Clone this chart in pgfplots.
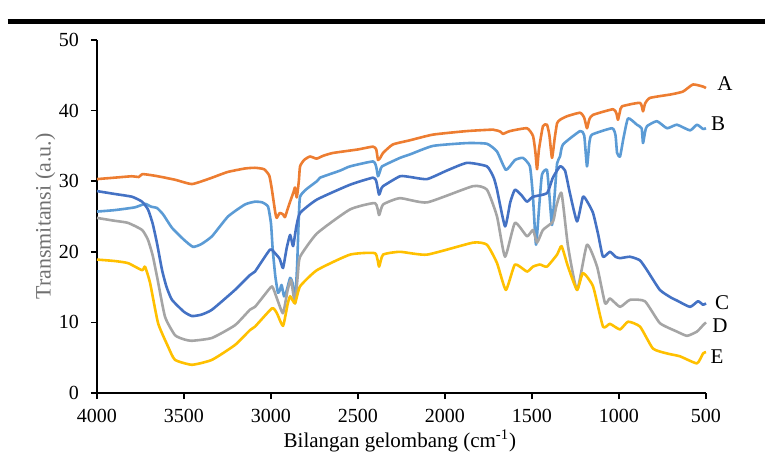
\documentclass[border=0pt]{standalone}
\usepackage{fontspec}
\setmainfont{Liberation Serif}
\usepackage{pgfplots}
\pgfplotsset{compat=1.18}
\definecolor{cA}{HTML}{ED7D31}
\definecolor{cB}{HTML}{5B9BD5}
\definecolor{cC}{HTML}{4472C4}
\definecolor{cD}{HTML}{A5A5A5}
\definecolor{cE}{HTML}{FFC000}
\definecolor{axgray}{HTML}{707070}

\begin{document}
\begin{tikzpicture}[x=1pt,y=1pt]
\useasboundingbox (0,0) rectangle (382.5,228.5);
\draw[line width=2.5pt] (3.75,217.75) -- (382.5,217.75);
\begin{axis}[
    at={(48.5pt,32pt)}, anchor=south west,
    scale only axis, width=304.5pt, height=176.5pt,
    xmin=500, xmax=4000, x dir=reverse,
    ymin=0, ymax=50,
    xtick={500,1000,...,4000}, ytick={0,10,...,50},
    axis x line*=bottom, axis y line*=left,
    axis line style={black, line width=0.75pt, -},
    tick style={black, line width=0.75pt},
    tick align=outside, major tick length=3pt,
    clip=false,
    font=\fontsize{10}{12}\selectfont,
    /pgf/number format/assume math mode=true,
    /pgf/number format/1000 sep={},
    xticklabel style={yshift=-1.5pt},
    yticklabel style={xshift=-2.5pt},
    ylabel={Transmitansi (a.u.)},
    ylabel style={at={(axis description cs:-0.085,0.5)}, anchor=center, color=axgray, font=\fontsize{11}{13}\selectfont},
    xlabel={Bilangan gelombang (cm\textsuperscript{-1})},
    xlabel style={at={(axis description cs:0.4975,-0.135)}, anchor=center, font=\fontsize{10.5}{12}\selectfont},
    every axis plot/.append style={line width=1.3pt, line join=round, smooth, tension=0.3},
]
\addplot[cA] coordinates {
(4000,30.3) (3900,30.5) (3800,30.7) (3760,30.6) (3740,31.0) (3700,30.9) (3650,30.7)
(3550,30.2) (3454,29.6) (3350,30.4) (3250,31.3) (3150,31.8) (3092,31.9) (3040,31.7)
(3010,30.8) (2996,29.0) (2975,25.5) (2967,24.8) (2950,25.5) (2931,25.3) (2920,24.9)
(2905,26.0) (2890,27.1) (2870,28.5) (2862,29.1) (2852,27.7) (2840,30.0) (2833,32.1)
(2810,33.0) (2776,33.5) (2738,33.2) (2700,33.6) (2644,34.0) (2500,34.5) (2414,34.9)
(2395,34.5) (2385,33.0) (2370,33.4) (2356,34.0) (2300,35.2) (2201,35.8) (2069,36.6)
(1874,37.1) (1724,37.3) (1680,37.0) (1667,36.7) (1627,37.1) (1529,37.5) (1494,36.4)
(1480,34.0) (1471,31.7) (1460,34.5) (1437,37.8) (1414,38.0) (1400,36.5) (1385,33.3)
(1370,36.0) (1356,38.2) (1339,38.7) (1299,39.2) (1224,39.7) (1200,39.0) (1184,37.5)
(1170,38.8) (1149,39.4) (1034,40.2) (1015,39.6) (1006,38.7) (995,39.8) (983,40.6)
(879,41.1) (862,39.9) (850,41.0) (822,41.8) (700,42.3) (632,42.7) (575,43.7)
(517,43.4) (500,43.2)
};
\addplot[cB] coordinates {
(4000,25.7) (3900,25.9) (3782,26.3) (3724,26.8) (3690,26.4) (3655,26.2) (3620,25.3)
(3569,23.4) (3500,21.7) (3448,20.7) (3400,21.1) (3339,22.2) (3247,25.0) (3150,26.7)
(3092,27.1) (3050,27.0) (3017,26.4) (3000,24.0) (2990,20.3) (2975,16.5) (2960,14.2)
(2950,14.5) (2939,15.3) (2925,13.7) (2910,14.5) (2890,16.3) (2875,15.5) (2862,12.8)
(2850,18.0) (2840,25.0) (2833,27.8) (2800,28.8) (2736,30.0) (2718,30.5) (2603,31.5)
(2546,32.1) (2414,32.8) (2395,32.0) (2385,30.7) (2372,31.5) (2362,32.1) (2259,33.3)
(2201,33.8) (2069,35.0) (1874,35.4) (1759,35.3) (1701,34.2) (1650,31.6) (1598,33.0)
(1552,33.3) (1512,32.1) (1495,28.0) (1477,21.0) (1460,26.0) (1443,30.9) (1414,31.6)
(1400,28.0) (1385,23.8) (1370,28.0) (1356,32.5) (1339,33.5) (1322,35.2) (1224,37.1)
(1200,36.5) (1184,32.1) (1170,35.5) (1155,36.6) (1040,37.5) (1020,36.5) (1011,34.0)
(994,33.5) (975,36.0) (948,38.9) (897,38.0) (870,37.5) (862,35.4) (850,37.0)
(839,37.8) (782,38.5) (724,37.5) (667,38.0) (592,37.2) (552,38.0) (517,37.4) (500,37.5)
};
\addplot[cC] coordinates {
(4000,28.6) (3900,28.2) (3799,27.8) (3741,27.1) (3707,26.0) (3680,24.0) (3655,21.2)
(3626,17.4) (3600,15.0) (3569,13.2) (3500,11.5) (3454,10.9) (3400,11.1) (3339,11.8)
(3207,14.6) (3121,16.7) (3092,17.2) (3006,20.3) (2977,19.8) (2950,19.0) (2931,17.7)
(2910,20.5) (2890,22.4) (2873,20.8) (2855,23.5) (2833,25.5) (2736,27.4) (2546,29.5)
(2414,30.5) (2395,30.0) (2379,28.1) (2365,29.0) (2356,29.3) (2259,30.7) (2201,30.6)
(2103,30.3) (1990,31.5) (1874,32.6) (1759,32.1) (1720,30.5) (1701,28.8) (1655,23.6)
(1625,27.0) (1598,28.8) (1560,28.0) (1529,27.1) (1494,27.8) (1414,28.3) (1380,30.5)
(1339,32.1) (1310,31.5) (1282,28.3) (1241,24.3) (1207,27.8) (1180,27.0) (1149,25.5)
(1120,22.5) (1092,19.3) (1052,20.0) (1020,19.3) (994,19.1) (937,19.3) (880,18.8)
(839,17.4) (765,14.6) (700,13.5) (667,13.1) (592,12.2) (546,13.0) (517,12.5) (500,12.7)
};
\addplot[cD] coordinates {
(4000,24.8) (3900,24.4) (3822,24.1) (3741,23.1) (3707,21.7) (3680,19.5) (3655,16.5)
(3609,10.8) (3552,8.2) (3500,7.6) (3454,7.4) (3339,7.8) (3207,9.6) (3121,11.8)
(3092,12.2) (3040,13.8) (2994,15.1) (2966,13.4) (2931,11.3) (2905,14.5) (2885,16.0)
(2862,12.7) (2845,17.0) (2833,19.3) (2736,22.6) (2546,26.0) (2402,26.9) (2379,25.2)
(2356,26.7) (2259,27.6) (2103,27.0) (1839,29.3) (1759,28.8) (1701,25.0) (1655,19.3)
(1598,24.1) (1529,22.2) (1494,23.1) (1471,21.3) (1437,23.1) (1379,24.3) (1360,26.5)
(1330,28.3) (1293,20.8) (1241,14.6) (1184,21.0) (1126,17.9) (1080,12.7) (1052,13.4)
(994,12.2) (937,13.2) (851,13.0) (765,9.9) (667,8.7) (609,8.1) (552,8.7) (517,9.6) (500,10.0)
};
\addplot[cE] coordinates {
(4000,18.9) (3900,18.7) (3822,18.4) (3741,17.4) (3724,17.9) (3695,15.6) (3649,9.9)
(3592,6.6) (3552,4.7) (3454,4.0) (3339,4.7) (3207,6.8) (3121,8.9) (3092,9.4)
(2994,12.0) (2966,11.3) (2931,9.5) (2905,12.5) (2890,13.7) (2862,12.7) (2833,15.1)
(2736,17.4) (2546,19.6) (2402,19.8) (2379,17.9) (2356,19.6) (2259,20.0) (2103,19.6)
(1839,21.3) (1759,21.0) (1701,18.4) (1650,14.6) (1598,18.2) (1529,17.2) (1494,17.9)
(1454,18.2) (1414,17.9) (1356,19.6) (1330,20.8) (1293,17.9) (1241,14.6) (1207,17.0)
(1149,15.1) (1092,9.4) (1052,9.8) (994,9.0) (948,10.1) (879,9.4) (805,6.3) (724,5.6)
(650,5.2) (552,4.2) (517,5.6) (500,5.8)
};
\node[font=\fontsize{10.5}{12}\selectfont] at (axis cs:391,43.8) {A};
\node[font=\fontsize{10.5}{12}\selectfont] at (axis cs:431,38.2) {B};
\node[font=\fontsize{10.5}{12}\selectfont] at (axis cs:408,12.8) {C};
\node[font=\fontsize{10.5}{12}\selectfont] at (axis cs:420,9.5) {D};
\node[font=\fontsize{10.5}{12}\selectfont] at (axis cs:437,5.2) {E};
\end{axis}
\end{tikzpicture}
\end{document}
